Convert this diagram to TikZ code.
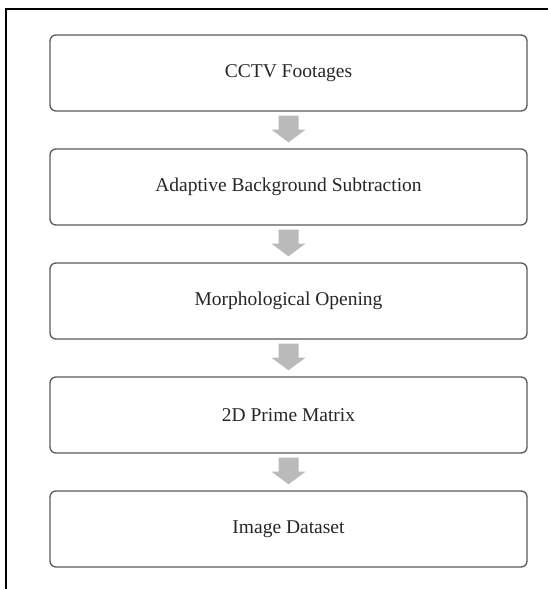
\documentclass[tikz,border=0pt]{standalone}
\usepackage{fontspec}
\setmainfont{Liberation Serif}
\usetikzlibrary{calc}
\tikzset{
  stage/.style={draw=black!65, line width=1.3pt, rounded corners=6pt,
    minimum width=477pt, minimum height=76pt, inner sep=0pt,
    font=\fontsize{19.5}{22}\selectfont, text=black!85},
  blockarrow/.style={fill=black!27, draw=none},
  frameline/.style={line width=2.4pt, black}
}
\begin{document}
\begin{tikzpicture}[x=1pt, y=-1pt]
  \useasboundingbox (0,0) rectangle (548,589);
  % open frame: top and left edges only
  \draw[frameline] (6.2,589) -- (6.2,8.7) -- (548,8.7);
  % process stages
  \node[stage] (n1) at (288.5,73)  {CCTV Footages};
  \node[stage] (n2) at (288.5,187) {Adaptive Background Subtraction};
  \node[stage] (n3) at (288.5,301) {Morphological Opening};
  \node[stage] (n4) at (288.5,415) {2D Prime Matrix};
  \node[stage] (n5) at (288.5,529) {Image Dataset};
  % block arrows between consecutive stages
  \foreach \u/\v in {n1/n2, n2/n3, n3/n4, n4/n5} {
    \fill[blockarrow] ($(\u.south)+(-10,4)$) -- ($(\u.south)+(10,4)$)
      -- ($(\u.south)+(10,18)$) -- ($(\u.south)+(17,18)$)
      -- ($(\v.north)+(0,-6)$) -- ($(\u.south)+(-17,18)$)
      -- ($(\u.south)+(-10,18)$) -- cycle;
  }
\end{tikzpicture}
\end{document}
